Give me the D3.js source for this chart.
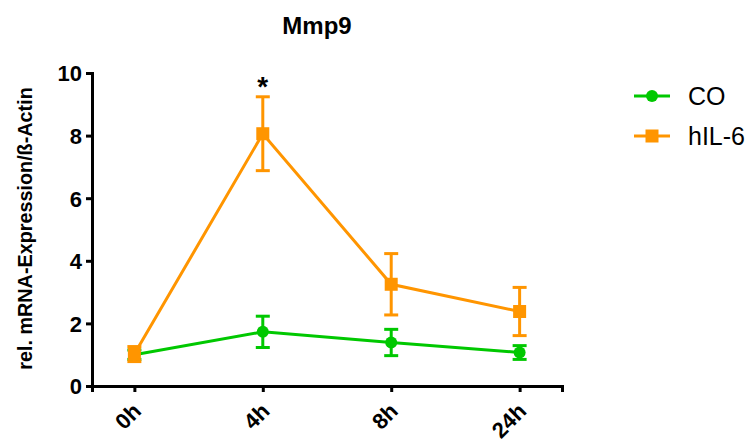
<!DOCTYPE html>
<html>
<head>
<meta charset="utf-8">
<script src="https://cdn.jsdelivr.net/npm/d3@7"></script>
<style>
  body { margin: 0; background: #fff; }
  svg { font-family: Arial, "Liberation Sans", sans-serif; }
</style>
</head>
<body>
<svg id="vis" width="747" height="441"></svg>
<script>
// chart data
var timepoints = ["0h", "4h", "8h", "24h"];
var seriesNames = ["CO", "hIL-6"];
var coMean = [1.0, 1.73, 1.39, 1.07];
var coErr = [0.15, 0.5, 0.42, 0.22];
var il6Mean = [1.02, 8.06, 3.25, 2.38];
var il6Err = [0.24, 1.18, 0.98, 0.77];
var yTicks = [0, 2, 4, 6, 8, 10];

var colors = { "CO": "#00c800", "hIL-6": "#ff9500" };

var svg = d3.select("#vis");

var margin = { top: 73, left: 92, right: 185, bottom: 55 };
var plotWidth = 747 - margin.left - margin.right;
var plotHeight = 441 - margin.top - margin.bottom;

var x = d3.scalePoint()
  .domain(timepoints)
  .range([0, plotWidth])
  .padding(0.33);

var y = d3.scaleLinear()
  .domain([0, 10])
  .range([plotHeight, 0]);

var plot = svg.append("g")
  .attr("transform", "translate(" + margin.left + "," + margin.top + ")");

// axes
var yAxis = d3.axisLeft(y).tickValues(yTicks).tickSize(6).tickPadding(4);
var yGroup = plot.append("g").call(yAxis);
var xAxis = d3.axisBottom(x).tickSize(6).tickPadding(0);
var xGroup = plot.append("g")
  .attr("transform", "translate(0," + plotHeight + ")")
  .call(xAxis);

[xGroup, yGroup].forEach(function(g) {
  g.select(".domain").attr("stroke", "#000").attr("stroke-width", 3);
  g.selectAll(".tick line").attr("stroke", "#000").attr("stroke-width", 3);
  g.selectAll("text")
    .attr("fill", "#000")
    .style("font-size", "22px")
    .style("font-weight", "bold");
});
yGroup.selectAll("text").attr("dy", "0.36em");
xGroup.selectAll("text")
  .attr("y", 0)
  .attr("text-anchor", "end")
  .attr("dy", "0.36em")
  .attr("transform", "translate(2,21) rotate(-45)");

// series
var series = [
  { name: "CO", mean: coMean, err: coErr, shape: "circle" },
  { name: "hIL-6", mean: il6Mean, err: il6Err, shape: "square" }
];

var line = d3.line()
  .x(function(d) { return x(d.t); })
  .y(function(d) { return y(d.v); });

series.forEach(function(s) {
  var pts = timepoints.map(function(t, i) {
    return { t: t, v: s.mean[i], e: s.err[i] };
  });
  var g = plot.append("g");
  var c = colors[s.name];

  g.append("path")
    .datum(pts)
    .attr("fill", "none")
    .attr("stroke", c)
    .attr("stroke-width", 3)
    .attr("d", line);

  // error bars
  var eb = g.selectAll("g.err").data(pts).enter().append("g");
  eb.append("line")
    .attr("x1", function(d) { return x(d.t); })
    .attr("x2", function(d) { return x(d.t); })
    .attr("y1", function(d) { return y(d.v - d.e); })
    .attr("y2", function(d) { return y(d.v + d.e); })
    .attr("stroke", c).attr("stroke-width", 3);
  [-1, 1].forEach(function(sign) {
    eb.append("line")
      .attr("x1", function(d) { return x(d.t) - 7; })
      .attr("x2", function(d) { return x(d.t) + 7; })
      .attr("y1", function(d) { return y(d.v + sign * d.e); })
      .attr("y2", function(d) { return y(d.v + sign * d.e); })
      .attr("stroke", c).attr("stroke-width", 3);
  });

  if (s.shape === "circle") {
    g.selectAll("circle").data(pts).enter().append("circle")
      .attr("cx", function(d) { return x(d.t); })
      .attr("cy", function(d) { return y(d.v); })
      .attr("r", 6)
      .attr("fill", c);
  } else {
    g.selectAll("rect").data(pts).enter().append("rect")
      .attr("x", function(d) { return x(d.t) - 6.5; })
      .attr("y", function(d) { return y(d.v) - 6.5; })
      .attr("width", 13)
      .attr("height", 13)
      .attr("fill", c);
  }
});

// significance star
plot.append("text")
  .attr("x", x("4h"))
  .attr("y", y(il6Mean[1] + il6Err[1]) - 1)
  .attr("text-anchor", "middle")
  .style("font-size", "28px")
  .style("font-weight", "bold")
  .text("*");

// title
svg.append("text")
  .attr("x", 317)
  .attr("y", 34)
  .attr("text-anchor", "middle")
  .style("font-size", "24px")
  .style("font-weight", "bold")
  .text("Mmp9");

// y label
svg.append("text")
  .attr("transform", "translate(32," + (margin.top + plotHeight / 2 - 1) + ") rotate(-90)")
  .attr("text-anchor", "middle")
  .style("font-size", "19.8px")
  .style("font-weight", "bold")
  .text("rel. mRNA-Expression/ß-Actin");

// legend
var legend = svg.append("g").attr("transform", "translate(634,96)");
seriesNames.forEach(function(name, i) {
  var lg = legend.append("g").attr("transform", "translate(0," + (i * 40) + ")");
  var c = colors[name];
  lg.append("line").attr("x1", 0).attr("x2", 36).attr("stroke", c).attr("stroke-width", 3);
  if (name === "CO") {
    lg.append("circle").attr("cx", 18).attr("r", 6).attr("fill", c);
  } else {
    lg.append("rect").attr("x", 11.5).attr("y", -6.5).attr("width", 13).attr("height", 13).attr("fill", c);
  }
  lg.append("text")
    .attr("x", 54)
    .attr("dy", "0.36em")
    .style("font-size", "25px")
    .text(name);
});
</script>
</body>
</html>
